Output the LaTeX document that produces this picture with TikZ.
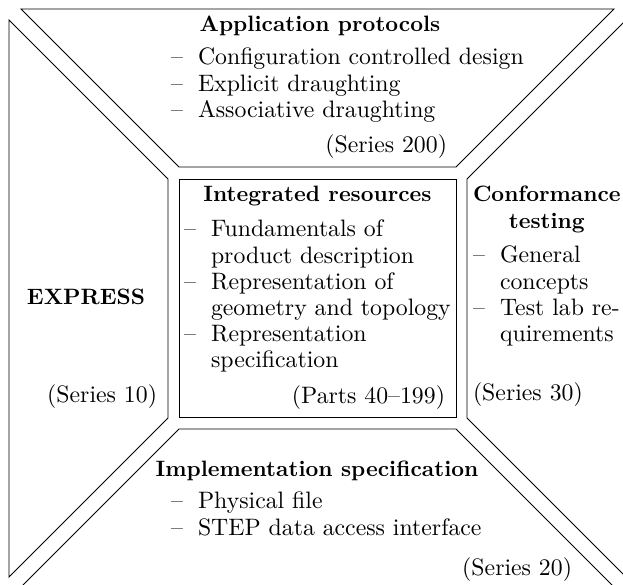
\documentclass[tikz,border=0pt]{standalone}
\usepackage{tikz}
\tikzset{
  block/.style={draw=black, line width=0.45pt, line join=miter},
  txt/.style={inner sep=0pt, outer sep=0pt, font=\fontsize{10.9}{12}\selectfont},
  bld/.style={inner sep=0pt, outer sep=0pt, font=\fontsize{10.2}{12}\selectfont\bfseries},
  ttl/.style={bld, anchor=base},
}
\newcommand{\dashitem}{\makebox[12.4pt][l]{--}}
\newcommand{\contind}{\hspace*{12.4pt}}
\begin{document}
\begin{tikzpicture}[x=0.4587pt, y=-0.4587pt]
\useasboundingbox (0,0) rectangle (623,585);
% shapes
\draw[block] (21,9) -- (614,9) -- (456,167) -- (179,167) -- cycle;
\draw[block] (9,20) -- (168,179) -- (168,418) -- (9,577) -- cycle;
\draw[block] (179,179) rectangle (456,417);
\draw[block] (626,20) -- (467,179) -- (467,418) -- (626,577) -- cycle;
\draw[block] (179,429) -- (456,429) -- (614,587) -- (21,587) -- cycle;
% top
\node[ttl] (apt) at (320,32) {Application protocols};
\node[txt, anchor=base west] (apl) at (171,65) {\begin{tabular}[t]{@{}l@{}}\dashitem Configuration controlled design\\ \dashitem Explicit draughting\\ \dashitem Associative draughting\end{tabular}};
\node[txt, anchor=base east] (aps) at (447,153) {(Series 200)};
% center
\node[ttl] (irt) at (317.5,202) {Integrated resources};
\node[txt, anchor=base west] (irl) at (184,237) {\begin{tabular}[t]{@{}l@{}}\dashitem Fundamentals of\\ \contind product description\\ \dashitem Representation of\\ \contind geometry and topology\\ \dashitem Representation\\ \contind specification\end{tabular}};
\node[txt, anchor=base east] (irs) at (445,404) {(Parts 40--199)};
% left
\node[ttl] (ext) at (86,305) {EXPRESS};
\node[txt, anchor=base east] (exs) at (157,403) {(Series 10)};
% right
\node[bld, anchor=base west] (cft) at (473,202) {\begin{tabular}[t]{@{}c@{}}Conformance\\ testing\end{tabular}};
\node[txt, anchor=base west] (cfl) at (473,263) {\begin{tabular}[t]{@{}l@{}}\dashitem General\\ \contind concepts\\ \dashitem Test lab re-\\ \contind quirements\end{tabular}};
\node[txt, anchor=base west] (cfs) at (473,401) {(Series 30)};
% bottom
\node[ttl] (ist) at (317,477) {Implementation specification};
\node[txt, anchor=base west] (isl) at (171,509) {\begin{tabular}[t]{@{}l@{}}\dashitem Physical file\\ \dashitem STEP data access interface\end{tabular}};
\node[txt, anchor=base east] (iss) at (572,576) {(Series 20)};
\end{tikzpicture}
\end{document}
